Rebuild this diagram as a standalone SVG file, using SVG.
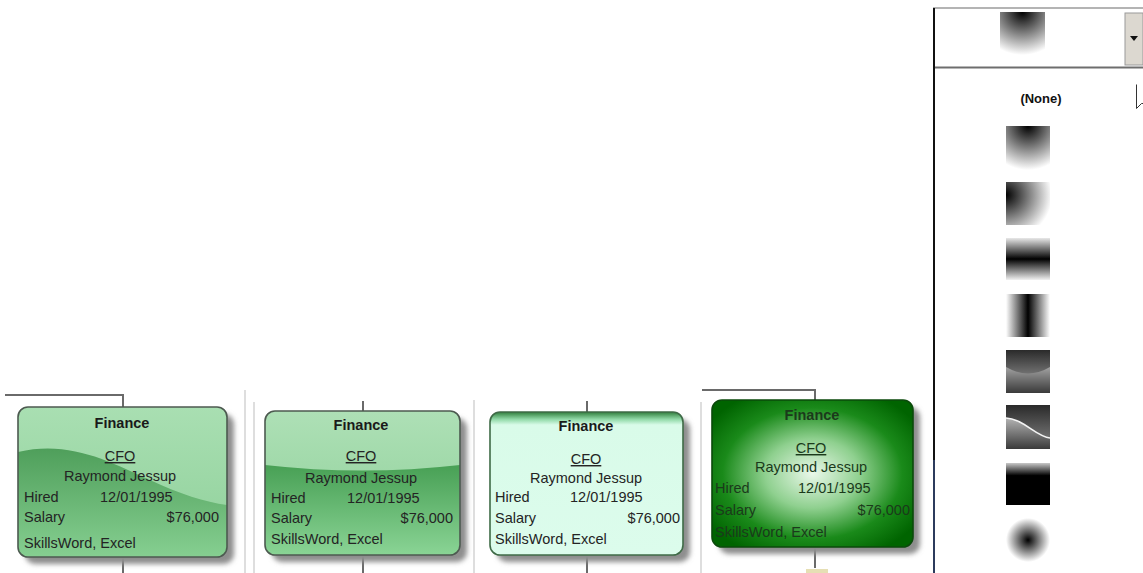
<svg xmlns="http://www.w3.org/2000/svg" width="1143" height="573" viewBox="0 0 1143 573">
  <defs>
    <style>
      .lbl{font-family:"Liberation Sans",Arial,Helvetica,sans-serif;font-size:14.5px;fill:#242424}
      .ttl{font-weight:bold;text-anchor:middle;fill:#1a1a1a}
      .mid{text-anchor:middle}
      .end{text-anchor:end}
      .u{text-decoration:underline}
      .dk{fill:#1b3a1b}
      .wire{fill:none;stroke:#6a6a6a;stroke-width:2}
      .sep{stroke:#dedede;stroke-width:2}
      .shadow{fill:#8e8e8e;filter:url(#soft)}
      .frame{fill:none;stroke:#4d5a50;stroke-width:1.6}
      .none{font-family:"Liberation Sans",Arial,sans-serif;font-size:13px;font-weight:bold;fill:#111;text-anchor:middle}
    </style>
    <filter id="soft" x="-10%" y="-10%" width="130%" height="130%">
      <feGaussianBlur stdDeviation="2.5"/>
    </filter>

    <!-- card fills -->
    <linearGradient id="waveTop" x1="0" y1="0" x2="0" y2="1">
      <stop offset="0" stop-color="#a9dfb2"/>
      <stop offset="1" stop-color="#8fd09a"/>
    </linearGradient>
    <linearGradient id="waveLow" x1="0" y1="0" x2="0" y2="1">
      <stop offset="0" stop-color="#4f9f5b"/>
      <stop offset="1" stop-color="#86cf91"/>
    </linearGradient>
    <linearGradient id="glassTop" x1="0" y1="0" x2="0" y2="1">
      <stop offset="0" stop-color="#aee0b6"/>
      <stop offset="1" stop-color="#8ccf97"/>
    </linearGradient>
    <linearGradient id="glassLow" x1="0" y1="0" x2="0" y2="1">
      <stop offset="0" stop-color="#48a055"/>
      <stop offset="1" stop-color="#8ad495"/>
    </linearGradient>
    <linearGradient id="mint" x1="0" y1="0" x2="0" y2="1">
      <stop offset="0" stop-color="#2f7d3b"/>
      <stop offset="0.05" stop-color="#8fd8a6"/>
      <stop offset="0.09" stop-color="#d9fbe9"/>
      <stop offset="1" stop-color="#dcfcec"/>
    </linearGradient>
    <radialGradient id="glow" cx="0.5" cy="0.5" r="0.62">
      <stop offset="0" stop-color="#eaf8ea"/>
      <stop offset="0.38" stop-color="#8fd08f"/>
      <stop offset="0.72" stop-color="#1a8a1a"/>
      <stop offset="1" stop-color="#006400"/>
    </radialGradient>

    <!-- swatch fills -->
    <radialGradient id="gTop" cx="0.5" cy="0" r="1">
      <stop offset="0" stop-color="#000"/>
      <stop offset="1" stop-color="#fff"/>
    </radialGradient>
    <radialGradient id="gLeft" cx="0" cy="0.3" r="1.05">
      <stop offset="0" stop-color="#000"/>
      <stop offset="1" stop-color="#fff"/>
    </radialGradient>
    <linearGradient id="gBandH" x1="0" y1="0" x2="0" y2="1">
      <stop offset="0" stop-color="#e8e8e8"/>
      <stop offset="0.5" stop-color="#000"/>
      <stop offset="1" stop-color="#f2f2f2"/>
    </linearGradient>
    <linearGradient id="gBandV" x1="0" y1="0" x2="1" y2="0">
      <stop offset="0" stop-color="#fff"/>
      <stop offset="0.5" stop-color="#000"/>
      <stop offset="1" stop-color="#fff"/>
    </linearGradient>
    <linearGradient id="gDarkTop" x1="0" y1="0" x2="0" y2="1">
      <stop offset="0" stop-color="#2a2a2a"/>
      <stop offset="1" stop-color="#707070"/>
    </linearGradient>
    <linearGradient id="gLowUp" x1="0" y1="0" x2="0" y2="1">
      <stop offset="0" stop-color="#e6e6e6"/>
      <stop offset="1" stop-color="#3a3a3a"/>
    </linearGradient>
    <linearGradient id="gCap" x1="0" y1="0" x2="0" y2="1">
      <stop offset="0" stop-color="#c8c8c8"/>
      <stop offset="0.3" stop-color="#000"/>
      <stop offset="1" stop-color="#000"/>
    </linearGradient>
    <radialGradient id="gDot" cx="0.5" cy="0.5" r="0.5">
      <stop offset="0" stop-color="#000"/>
      <stop offset="1" stop-color="#fff"/>
    </radialGradient>

    <clipPath id="clip1"><rect x="18" y="407" width="209" height="150" rx="10"/></clipPath>
    <clipPath id="clip2"><rect x="265" y="411" width="195" height="144" rx="10"/></clipPath>
  </defs>

  <rect width="1143" height="573" fill="#fff"/>

  <!-- panel dividers -->
  <g id="dividers">
    <line class="sep" x1="245" y1="390" x2="245" y2="573"/>
    <line class="sep" x1="254" y1="402" x2="254" y2="573"/>
    <line class="sep" x1="474" y1="400" x2="474" y2="573"/>
    <line class="sep" x1="701" y1="402" x2="701" y2="573"/>
  </g>

  <!-- connectors -->
  <g id="connectors">
    <polyline class="wire" points="5,395 123,395 123,407"/>
    <line class="wire" x1="123" y1="557" x2="123" y2="573"/>
    <line class="wire" x1="363" y1="401" x2="363" y2="411"/>
    <line class="wire" x1="363" y1="555" x2="363" y2="573"/>
    <line class="wire" x1="587" y1="401" x2="587" y2="412"/>
    <line class="wire" x1="587" y1="555" x2="587" y2="573"/>
    <polyline class="wire" points="702,390 815,390 815,400"/>
    <line class="wire" x1="815" y1="547" x2="815" y2="568"/>
    <rect x="806" y="569" width="22" height="4" fill="#e6dfb4"/>
  </g>

  <!-- wave style -->
  <g id="node-wave">
    <rect class="shadow" x="25" y="414" width="209" height="150" rx="10"/>
    <g clip-path="url(#clip1)">
      <rect x="18" y="407" width="209" height="150" fill="url(#waveTop)"/>
      <path d="M18,452 C70,440 110,462 150,480 C180,494 205,502 227,505 L227,557 L18,557 Z" fill="url(#waveLow)"/>
    </g>
    <rect class="frame" x="18" y="407" width="209" height="150" rx="10"/>
    <text class="lbl ttl" x="122" y="428">Finance</text>
    <text class="lbl mid u" x="120" y="461">CFO</text>
    <text class="lbl mid" x="120" y="481">Raymond Jessup</text>
    <text class="lbl" x="24" y="502">Hired</text>
    <text class="lbl" x="100" y="502">12/01/1995</text>
    <text class="lbl" x="24" y="522">Salary</text>
    <text class="lbl end" x="219" y="522">$76,000</text>
    <text class="lbl" x="24" y="548">SkillsWord, Excel</text>
  </g>

  <!-- glass style -->
  <g id="node-glass">
    <rect class="shadow" x="272" y="418" width="195" height="144" rx="10"/>
    <g clip-path="url(#clip2)">
      <rect x="265" y="411" width="195" height="144" fill="url(#glassTop)"/>
      <path d="M265,465 Q362,476 460,465 L460,555 L265,555 Z" fill="url(#glassLow)"/>
    </g>
    <rect class="frame" x="265" y="411" width="195" height="144" rx="10"/>
    <text class="lbl ttl" x="361" y="430">Finance</text>
    <text class="lbl mid u" x="361" y="461">CFO</text>
    <text class="lbl mid" x="361" y="483">Raymond Jessup</text>
    <text class="lbl" x="271" y="503">Hired</text>
    <text class="lbl" x="347" y="503">12/01/1995</text>
    <text class="lbl" x="271" y="523">Salary</text>
    <text class="lbl end" x="453" y="523">$76,000</text>
    <text class="lbl" x="271" y="544">SkillsWord, Excel</text>
  </g>

  <!-- top-edge style -->
  <g id="node-edge">
    <rect class="shadow" x="497" y="419" width="193" height="143" rx="10"/>
    <rect x="490" y="412" width="193" height="143" rx="10" fill="url(#mint)"/>
    <rect x="490" y="412" width="193" height="143" rx="10" fill="none" stroke="#3f6b47" stroke-width="1.6"/>
    <text class="lbl ttl" x="586" y="431">Finance</text>
    <text class="lbl mid u" x="586" y="464">CFO</text>
    <text class="lbl mid" x="586" y="483">Raymond Jessup</text>
    <text class="lbl" x="495" y="502">Hired</text>
    <text class="lbl" x="570" y="502">12/01/1995</text>
    <text class="lbl" x="495" y="523">Salary</text>
    <text class="lbl end" x="680" y="523">$76,000</text>
    <text class="lbl" x="495" y="544">SkillsWord, Excel</text>
  </g>

  <!-- radial style -->
  <g id="node-radial">
    <rect class="shadow" x="719" y="407" width="201" height="147" rx="10"/>
    <rect x="712" y="400" width="201" height="147" rx="10" fill="url(#glow)"/>
    <rect x="712" y="400" width="201" height="147" rx="10" fill="none" stroke="#0b4a0b" stroke-width="1.6"/>
    <text class="lbl ttl dk" x="812" y="420">Finance</text>
    <text class="lbl mid u dk" x="811" y="453">CFO</text>
    <text class="lbl mid dk" x="811" y="472">Raymond Jessup</text>
    <text class="lbl dk" x="715" y="493">Hired</text>
    <text class="lbl dk" x="798" y="493">12/01/1995</text>
    <text class="lbl dk" x="715" y="515">Salary</text>
    <text class="lbl end dk" x="910" y="515">$76,000</text>
    <text class="lbl dk" x="715" y="537">SkillsWord, Excel</text>
  </g>

  <!-- fill picker drop-down -->
  <g id="picker">
    <line x1="933" y1="8" x2="1143" y2="8" stroke="#b4b4b4" stroke-width="2"/>
    <line x1="933" y1="67.5" x2="1143" y2="67.5" stroke="#6e6e6e" stroke-width="2"/>
    <line x1="934" y1="8" x2="934" y2="460" stroke="#111" stroke-width="2"/>
    <line x1="934" y1="460" x2="934" y2="573" stroke="#2c3b5c" stroke-width="2"/>
    <rect x="1000" y="12" width="45" height="43" fill="url(#gTop)"/>
    <rect x="1125" y="13" width="18" height="52" fill="#dcd8d0" stroke="#9a9a9a" stroke-width="1"/>
    <path d="M1130,36 L1138,36 L1134,41 Z" fill="#111"/>
    <text class="none" x="1041" y="103">(None)</text>
    <path d="M1136.5,84.5 V108.5 L1141.5,103.5 L1143,103.5" fill="#fff" stroke="#333" stroke-width="1"/>
  </g>

  <g id="swatches">
    <rect x="1006" y="126" width="44" height="44" fill="url(#gTop)"/>
    <rect x="1006" y="182" width="44" height="43" fill="url(#gLeft)"/>
    <rect x="1006" y="238" width="44" height="42" fill="url(#gBandH)"/>
    <rect x="1006" y="294" width="44" height="43" fill="url(#gBandV)"/>
    <g id="sw-glass">
      <rect x="1006" y="350" width="44" height="43" fill="url(#gLowUp)"/>
      <path d="M1006,350 H1050 V367 Q1028,380 1006,367 Z" fill="url(#gDarkTop)"/>
    </g>
    <g id="sw-wave">
      <rect x="1006" y="405" width="44" height="44" fill="url(#gLowUp)"/>
      <path d="M1006,405 H1050 V438 C1036,437 1024,419 1006,418 Z" fill="url(#gDarkTop)"/>
      <path d="M1006,418 C1024,419 1036,437 1050,438" fill="none" stroke="#f4f4f4" stroke-width="1.5"/>
    </g>
    <rect x="1006" y="463" width="44" height="42" fill="url(#gCap)"/>
    <rect x="1006" y="518" width="44" height="44" fill="url(#gDot)"/>
  </g>
</svg>
